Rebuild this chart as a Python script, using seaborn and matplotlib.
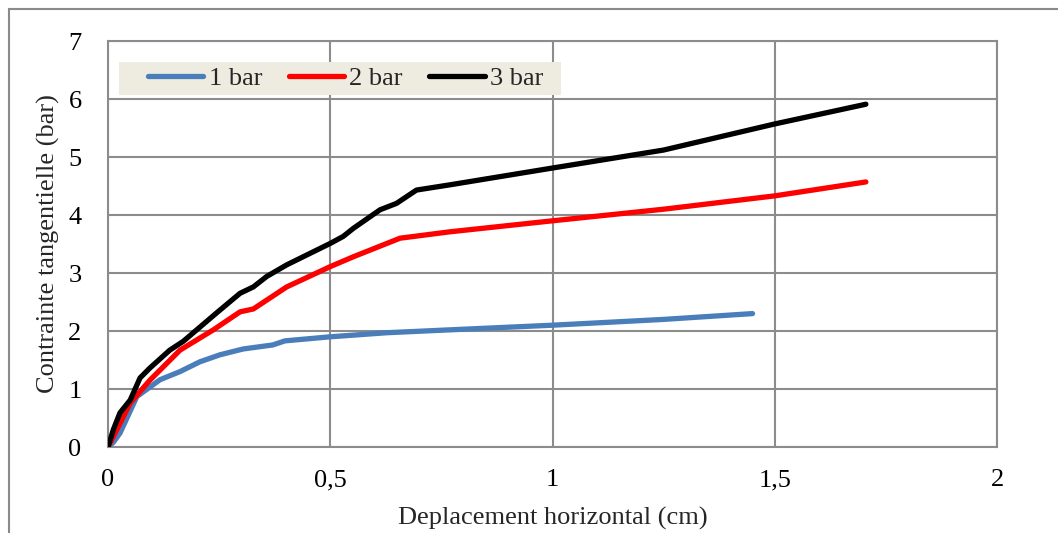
import matplotlib
matplotlib.use("Agg")
import matplotlib.pyplot as plt
from matplotlib.patches import Rectangle
import seaborn as sns
import pandas as pd

# Shear stress vs horizontal displacement for three normal loads
x_1bar = [0, 0.012, 0.027, 0.065, 0.117, 0.162, 0.207, 0.252, 0.304, 0.371, 0.398,
          0.5, 0.627, 0.769, 1.0, 1.25, 1.45]
y_1bar = [0, 0.08, 0.24, 0.87, 1.16, 1.30, 1.47, 1.59, 1.69, 1.76, 1.83,
          1.90, 1.97, 2.02, 2.10, 2.20, 2.30]

x_2bar = [0, 0.012, 0.05, 0.094, 0.162, 0.237, 0.297, 0.327, 0.402, 0.5, 0.552,
          0.657, 0.769, 1.0, 1.25, 1.5, 1.705]
y_2bar = [0, 0.18, 0.76, 1.15, 1.67, 2.02, 2.33, 2.38, 2.76, 3.11, 3.28,
          3.60, 3.71, 3.90, 4.10, 4.33, 4.57]

x_3bar = [0, 0.012, 0.027, 0.05, 0.072, 0.094, 0.139, 0.169, 0.244, 0.297, 0.327,
          0.357, 0.402, 0.439, 0.5, 0.529, 0.552, 0.612, 0.649, 0.694, 0.769,
          1.0, 1.25, 1.5, 1.705]
y_3bar = [0, 0.30, 0.59, 0.81, 1.19, 1.36, 1.67, 1.82, 2.31, 2.65, 2.76,
          2.94, 3.14, 3.28, 3.51, 3.63, 3.77, 4.09, 4.20, 4.43, 4.52,
          4.81, 5.12, 5.57, 5.91]

series_names = ["1 bar", "2 bar", "3 bar"]
series_colors = ["#4a7ebb", "#ff0000", "#000000"]

x_ticks = [0, 0.5, 1, 1.5, 2]
x_tick_labels = ["0", "0,5", "1", "1,5", "2"]
y_ticks = [0, 1, 2, 3, 4, 5, 6, 7]

sns.set_theme(style="white")
plt.rcParams["font.family"] = ["Liberation Serif", "DejaVu Serif"]

FS = 19
W, H = 1058, 533
fig = plt.figure(figsize=(W / 100, H / 100), dpi=100)
ax = fig.add_axes([108 / W, 1 - 447 / H, (997 - 108) / W, (447 - 41) / H])

# outer chart frame
fig.patches.append(Rectangle((9 / W, -0.1), 1.2, 1 - 9 / H + 0.1,
                             transform=fig.transFigure, fill=False,
                             edgecolor="#8a8a8a", linewidth=1.5, zorder=0))

data = [(x_1bar, y_1bar), (x_2bar, y_2bar), (x_3bar, y_3bar)]
for (xs, ys), name, color in zip(data, series_names, series_colors):
    df = pd.DataFrame({"x": xs, "y": ys})
    sns.lineplot(data=df, x="x", y="y", ax=ax, sort=False, estimator=None,
                 color=color, linewidth=3.8, label=name,
                 solid_capstyle="round", solid_joinstyle="round", zorder=3)

ax.set_xlim(0, 2)
ax.set_ylim(0, 7)
ax.set_xticks(x_ticks)
ax.set_xticklabels(x_tick_labels)
ax.set_yticks(y_ticks)
ax.grid(True, color="#8c8c8c", linewidth=1.5)
ax.set_axisbelow(True)
for sp in ax.spines.values():
    sp.set_color("#8c8c8c")
    sp.set_linewidth(1.5)
ax.tick_params(axis="both", length=0, labelsize=FS, colors="black")
ax.tick_params(axis="x", pad=16)
ax.tick_params(axis="y", pad=19)

ax.set_xlabel("Deplacement horizontal (cm)", fontsize=FS, labelpad=11)
ax.set_ylabel("Contrainte tangentielle (bar)", fontsize=FS, labelpad=6)

# legend background panel
ax.add_patch(Rectangle((11 / 889, 1 - 54 / 406), 442 / 889, 33 / 406,
                       transform=ax.transAxes, facecolor="#eeebe1",
                       edgecolor="none", zorder=4))
leg = ax.legend(loc="center left", bbox_to_anchor=(40 / 889, 1 - 37.5 / 406),
                ncol=3, frameon=False, fontsize=FS, handlelength=2.1,
                handletextpad=0.2, columnspacing=1.0, borderpad=0,
                borderaxespad=0)
for line in leg.get_lines():
    line.set_solid_capstyle("round")

fig.savefig("out.png", dpi=100)
